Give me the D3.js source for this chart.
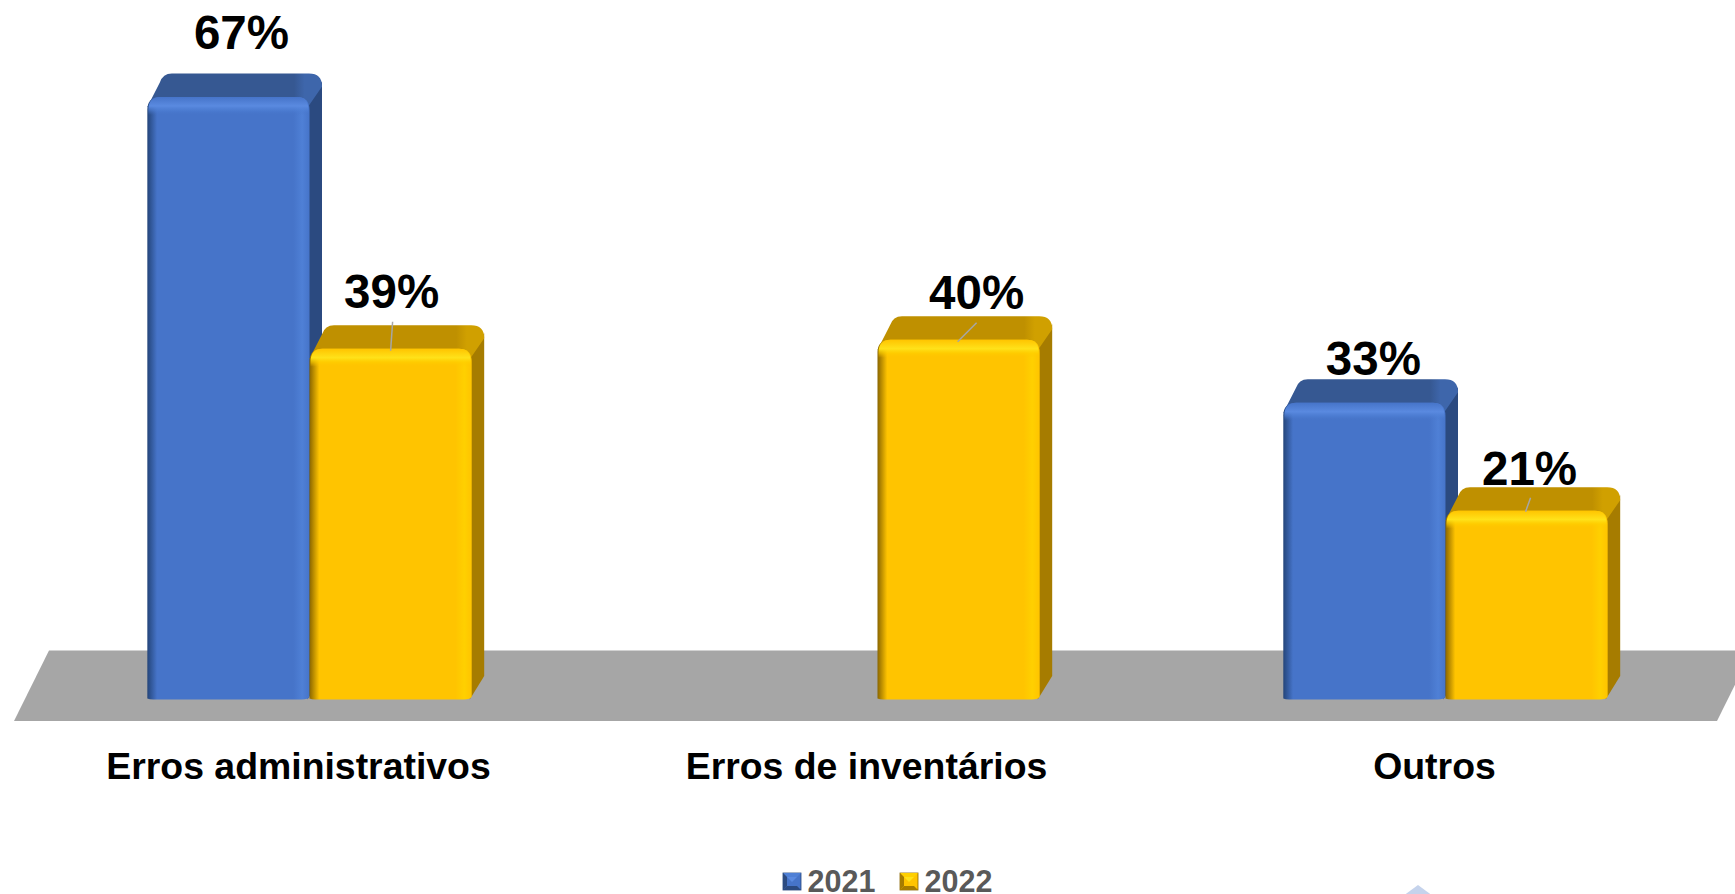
<!DOCTYPE html>
<html><head><meta charset="utf-8">
<script src="https://cdn.jsdelivr.net/npm/d3@7"></script>
<style>html,body{margin:0;background:#fff;overflow:hidden}svg{display:block}text{font-family:"Liberation Sans",Arial,sans-serif;font-weight:700}</style>
</head><body><svg id="c" width="1735" height="894"></svg>
<script>
const categories = ["Erros administrativos","Erros de inventários","Outros"];
const seriesNames = ["2021","2022"];
const values2021 = [67,null,33];
const values2022 = [39,40,21];
const valueLabelFormat = v => v + "%";

const W=1735,H=894;
const svg=d3.select("#c");
const defs=svg.append("defs");
const palette={
 "2021":{front:"#4674c9",side:"#2b4a80",top:"#365892",topEnd:"#3e66ab",dark:"#24457a",light:"#5a8ae0",hi:"#4f80d6"},
 "2022":{front:"#ffc400",side:"#a67c00",top:"#bf9000",topEnd:"#d0a000",dark:"#8a6600",light:"#ffe21a",hi:"#ffd000"}
};
seriesNames.forEach(s=>{
 const p=palette[s];
 const h=defs.append("linearGradient").attr("id","h"+s);
 [[0,p.dark],[.06,p.front],[.9,p.front],[.955,p.hi],[1,p.front]].forEach(d=>h.append("stop").attr("offset",d[0]).attr("stop-color",d[1]));
 const t=defs.append("linearGradient").attr("id","t"+s).attr("x1",0).attr("x2",0).attr("y1",0).attr("y2",1);
 [[0,p.front,1],[.5,p.light,1],[.75,p.hi,.6],[1,p.front,0]].forEach(d=>t.append("stop").attr("offset",d[0]).attr("stop-color",d[1]).attr("stop-opacity",d[2]));
 const tp=defs.append("linearGradient").attr("id","tp"+s);
 [[0,p.top],[.84,p.top],[.9,p.topEnd],[1,p.topEnd]].forEach(d=>tp.append("stop").attr("offset",d[0]).attr("stop-color",d[1]));
});

const x0=d3.scaleBand().domain(categories).range([25.5,1729.5]).paddingInner(.4289).paddingOuter(.2145);
const x1=d3.scaleBand().domain(seriesNames).range([0,x0.bandwidth()]);
const y=d3.scaleLinear().domain([0,67]).range([699.5,97]);
const dx=12.5,dy=23.5,floorTop=650.5,floorBottom=721;

// floor
svg.append("path").attr("d",d3.line()([[14,floorBottom],[49,floorTop],[1752,floorTop],[1717,floorBottom]])+"Z").attr("fill","#a6a6a6");

// decorative corner mark
svg.append("path").attr("d",d3.line()([[1418,885],[1399,899],[1437,899]])+"Z").attr("fill","#c5d3ec");

const rows=[];
categories.forEach((c,i)=>{
 [values2021[i],values2022[i]].forEach((v,j)=>{ if(v!=null) rows.push({c,s:seriesNames[j],v}); });
});
const labelNudges=[[13,-48],[1,-41],[18,-31],[9,-28],[3,-26]];
const leaders=[null,[[2,-27],[0,2]],[[18,-17],[-1,2]],null,[[4,-13],[-1,1]]];

const g=svg.selectAll("g.bar").data(rows).enter().append("g").attr("class","bar");
g.each(function(d,i){
 const s=d3.select(this),p=palette[d.s];
 const l=x0(d.c)+x1(d.s),w=x1.bandwidth(),r=l+w,t=y(d.v),b=y(0),R=13;
 d.cx=l+w/2; d.t=t;
 // side
 s.append("path").attr("d",`M${r-4},${t+6} L${r+dx},${t-dy+8} L${r+dx},${b-dy} L${r-2},${b} Z`).attr("fill",p.side);
 // top face
 s.append("path").attr("d",`M${l},${t+10} L${l+dx},${t-dy+9} Q${l+dx+3},${t-dy} ${l+dx+12},${t-dy} L${r+dx-R},${t-dy} Q${r+dx},${t-dy} ${r+dx},${t-dy+R} L${r-3},${t+12} Z`).attr("fill",`url(#tp${d.s})`);
 // front
 const front=`M${l},${b-1} L${l},${t+R} Q${l},${t} ${l+R},${t} L${r-R},${t} Q${r},${t} ${r},${t+R} L${r},${b-3} Q${r-1},${b} ${r-8},${b} L${l+6},${b} Q${l+2},${b} ${l},${b-1} Z`;
 s.append("path").attr("d",front).attr("fill",`url(#h${d.s})`);
 // top bevel highlight
 s.append("path").attr("d",`M${l+1},${t+18} L${l+1},${t+R} Q${l+1},${t} ${l+R},${t} L${r-R},${t} Q${r-1},${t} ${r-1},${t+R} L${r-1},${t+18} Z`).attr("fill",`url(#t${d.s})`);
});

// leader lines
svg.selectAll("line.lead").data(rows.filter((d,i)=>leaders[i])).enter().append("line").attr("class","lead")
 .attr("x1",d=>d.cx+leaders[rows.indexOf(d)][0][0]).attr("y1",d=>d.t+leaders[rows.indexOf(d)][0][1])
 .attr("x2",d=>d.cx+leaders[rows.indexOf(d)][1][0]).attr("y2",d=>d.t+leaders[rows.indexOf(d)][1][1])
 .attr("stroke","#a6a6a6").attr("stroke-width",1.5);

// value labels
svg.selectAll("text.val").data(rows).enter().append("text").attr("class","val")
 .attr("x",(d,i)=>d.cx+labelNudges[i][0]).attr("y",(d,i)=>d.t+labelNudges[i][1])
 .attr("text-anchor","middle").attr("font-size",47.5).attr("fill","#000").text(d=>valueLabelFormat(d.v));

// axis labels
const axis=d3.axisBottom(x0).tickSize(0).tickPadding(0);
const ax=svg.append("g").attr("transform","translate(-11,779)").call(axis);
ax.select(".domain").remove();
ax.selectAll("text").attr("dy",0).attr("y",0).attr("font-size",37.4).attr("fill","#000").style("font-family",'"Liberation Sans",Arial,sans-serif').style("font-weight",700);

// legend
const legendX=d3.scaleOrdinal().domain(seriesNames).range([783,900]);
seriesNames.forEach(s=>{
 const p=palette[s],X=legendX(s),S=18,Y=873;
 const lg=svg.append("g");
 const o=X,e=X+S,f=Y,h=Y+S,m=4;
 lg.append("rect").attr("x",o).attr("y",f).attr("width",S).attr("height",S-1).attr("fill",p.front).attr("stroke",p.dark).attr("stroke-width",.8);
 lg.append("path").attr("d",d3.line()([[o,f],[e,f],[e-m,f+m],[o+m,f+m]])+"Z").attr("fill",p.hi);
 lg.append("path").attr("d",d3.line()([[o,f],[o+m,f+m],[o+m,h-1-m],[o,h-1]])+"Z").attr("fill",p.side);
 lg.append("path").attr("d",d3.line()([[o,h-1],[o+m,h-1-m],[e-m,h-1-m],[e,h-1]])+"Z").attr("fill",p.side);
 lg.append("path").attr("d",d3.line()([[o+S/2,f+S/2],[o+m,f+m],[e-m,f+m]])+"Z").attr("fill",p.light);
 lg.append("text").attr("x",X+24.5).attr("y",891.5).attr("font-size",30.5).attr("fill","#595959").text(s);
});
</script></body></html>
